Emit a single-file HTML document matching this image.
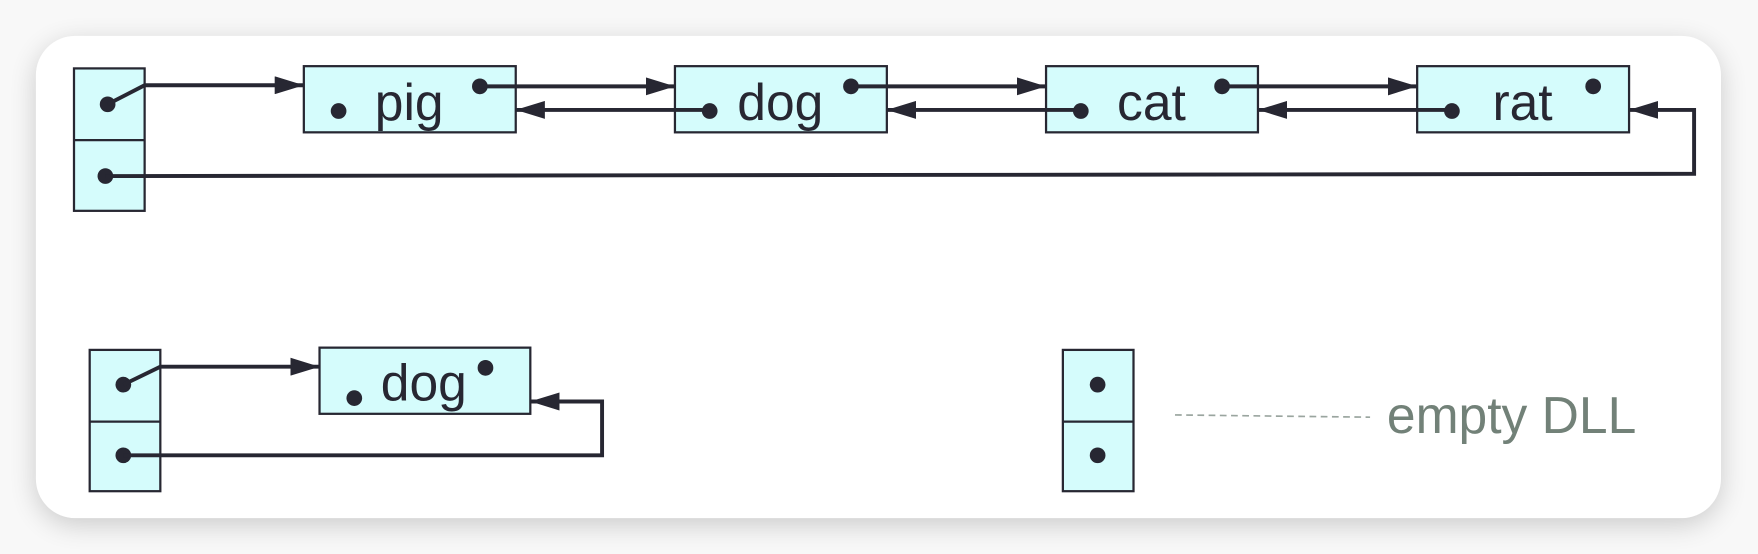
<!DOCTYPE html>
<html><head><meta charset="utf-8"><style>
html,body{margin:0;padding:0;width:1758px;height:554px;overflow:hidden;background:#f7f7f7}
svg{display:block}
</style></head><body>
<svg width="1758" height="554" viewBox="0 0 1568 494" preserveAspectRatio="none" xmlns="http://www.w3.org/2000/svg">
<defs>
<filter id="sh" x="-10%" y="-20%" width="120%" height="140%"><feGaussianBlur stdDeviation="12"/></filter>
<marker id="ah" viewBox="0 0 26 16" refX="26" refY="8" markerWidth="26" markerHeight="16" markerUnits="userSpaceOnUse" orient="auto"><path d="M0,0 L26,8 L0,16 Z" fill="#272732"/></marker>
</defs>
<rect x="0" y="0" width="1568" height="494" fill="#f8f8f8"/>
<rect x="32" y="38" width="1503" height="430" rx="36" fill="#000" opacity="0.18" filter="url(#sh)"/>
<rect x="32" y="32" width="1503" height="430" rx="35" fill="#fff"/>
<g stroke="#272732" stroke-width="2" fill="#d5fcfc">
<rect x="66" y="61" width="63" height="127"/><line x1="66" y1="125" x2="129" y2="125"/>
<rect x="271" y="59" width="189" height="59"/>
<rect x="602" y="59" width="189" height="59"/>
<rect x="933" y="59" width="189" height="59"/>
<rect x="1264" y="59" width="189" height="59"/>
<rect x="80" y="312" width="63" height="126"/><line x1="80" y1="376" x2="143" y2="376"/>
<rect x="285" y="310" width="188" height="59"/>
<rect x="948" y="312" width="63" height="126"/><line x1="948" y1="376" x2="1011" y2="376"/>
</g>
<g font-family="Liberation Sans, sans-serif" font-size="46" fill="#272732" text-anchor="middle">
<text x="365" y="107">pig</text>
<text x="696" y="107">dog</text>
<text x="1027" y="107">cat</text>
<text x="1358" y="107">rat</text>
<text x="378" y="357">dog</text>
</g>
<g fill="#272732">
<circle cx="96" cy="93" r="7"/><circle cx="94" cy="157" r="7"/>
<circle cx="302" cy="99" r="7"/><circle cx="428" cy="77" r="7"/>
<circle cx="633" cy="99" r="7"/><circle cx="759" cy="77" r="7"/>
<circle cx="964" cy="99" r="7"/><circle cx="1090" cy="77" r="7"/>
<circle cx="1295" cy="99" r="7"/><circle cx="1421" cy="77" r="7"/>
<circle cx="110" cy="343" r="7"/><circle cx="110" cy="406" r="7"/>
<circle cx="316" cy="355" r="7"/><circle cx="433" cy="328" r="7"/>
<circle cx="979" cy="343" r="7"/><circle cx="979" cy="406" r="7"/>
</g>
<g stroke="#272732" stroke-width="3.5" fill="none">
<polyline points="96,93 129,76 271,76" marker-end="url(#ah)"/>
<line x1="428" y1="77" x2="602" y2="77" marker-end="url(#ah)"/>
<line x1="759" y1="77" x2="933" y2="77" marker-end="url(#ah)"/>
<line x1="1090" y1="77" x2="1264" y2="77" marker-end="url(#ah)"/>
<line x1="633" y1="98" x2="460" y2="98" marker-end="url(#ah)"/>
<line x1="964" y1="98" x2="791" y2="98" marker-end="url(#ah)"/>
<line x1="1295" y1="98" x2="1122" y2="98" marker-end="url(#ah)"/>
<polyline points="94,157 1511,155 1511,98 1453,98" marker-end="url(#ah)"/>
<polyline points="110,343 143,327 285,327" marker-end="url(#ah)"/>
<polyline points="110,406 537,406 537,358 473,358" marker-end="url(#ah)"/>
</g>
<line x1="1048" y1="370" x2="1222" y2="372" stroke="#9aa59f" stroke-width="1.5" stroke-dasharray="6,4"/>
<text x="1237" y="386" font-family="Liberation Sans, sans-serif" font-size="46" fill="#728178">empty DLL</text>
</svg>
</body></html>
